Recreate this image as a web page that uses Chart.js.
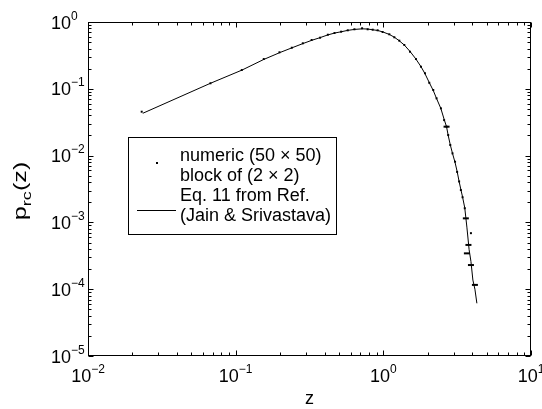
<!DOCTYPE html>
<html>
<head>
<meta charset="utf-8">
<script src="https://cdn.jsdelivr.net/npm/chart.js@4.4.0/dist/chart.umd.min.js"></script>
<style>
  body { margin: 0; background: #fff; }
  canvas { display: block; }
</style>
</head>
<body>
<canvas id="chart" width="542" height="409"></canvas>
<script>
// numeric histogram points (z, p_rc(z))
var numericZ = [0.0231, 0.0675, 0.110, 0.155, 0.198, 0.240, 0.285, 0.327, 0.373, 0.421,
                0.467, 0.518, 0.574, 0.637, 0.718, 0.783, 0.847, 0.915, 0.989, 1.098,
                1.187, 1.283, 1.387, 1.515, 1.663, 1.798, 1.914, 2.047, 2.178, 2.293,
                2.455, 2.58, 2.68, 2.75, 2.84, 2.94, 3.06, 3.16, 3.26, 3.35,
                3.44, 3.56, 3.92];
var numericP = [0.0454, 0.121, 0.191, 0.279, 0.352, 0.412, 0.48, 0.538, 0.582, 0.645,
                0.684, 0.716, 0.751, 0.778, 0.805, 0.778, 0.767, 0.751, 0.708, 0.654,
                0.590, 0.525, 0.453, 0.359, 0.279, 0.214, 0.171, 0.123, 0.096, 0.072,
                0.051, 0.034, 0.0271, 0.0203, 0.0144, 0.0108, 0.0081, 0.0057, 0.0041, 0.00305,
                0.00238, 0.00163, 0.00069];
// low-count bins, drawn as short horizontal dashes
var spreadZ = [2.68, 3.62, 3.77, 3.68, 3.92, 4.17];
var spreadP = [0.0271, 0.00115, 0.00046, 0.000344, 0.00023, 0.000116];

// Eq. 11 (Jain & Srivastava)
var eqZ = [0.0235, 0.0675, 0.11, 0.155, 0.2, 0.24, 0.285, 0.33, 0.37, 0.42,
           0.47, 0.52, 0.575, 0.64, 0.72, 0.78, 0.85, 0.92, 1.0, 1.1,
           1.19, 1.28, 1.39, 1.52, 1.66, 1.8, 1.91, 2.05, 2.18, 2.29,
           2.45, 2.58, 2.68, 2.75, 2.84, 2.94, 3.06, 3.16, 3.26, 3.35,
           3.44, 3.56, 3.68, 3.81, 3.92, 4.04, 4.17, 4.3];
var eqP = [0.043, 0.121, 0.19, 0.275, 0.35, 0.41, 0.475, 0.535, 0.58, 0.64,
           0.685, 0.715, 0.75, 0.775, 0.79, 0.785, 0.765, 0.745, 0.705, 0.65,
           0.59, 0.525, 0.45, 0.36, 0.28, 0.214, 0.17, 0.123, 0.094, 0.072,
           0.051, 0.035, 0.027, 0.02, 0.0145, 0.0108, 0.0079, 0.0058, 0.0041, 0.0031,
           0.0024, 0.00165, 0.00085, 0.00039, 0.00026, 0.000137, 0.0001, 0.0000615];

var xTickExps = [-2, -1, 0, 1];
var yTickExps = [-5, -4, -3, -2, -1, 0];
var legendLines = ['numeric (50 \u00d7 50)', 'block of (2 \u00d7 2)', 'Eq. 11 from Ref.', '(Jain & Srivastava)'];

var FONT = '"Liberation Sans", Arial, Helvetica, sans-serif';

function pairs(xs, ys) {
  return xs.map(function (x, i) { return { x: x, y: ys[i] }; });
}

function expText(e) {
  return e < 0 ? '\u2212' + (-e) : String(e);
}

// MATLAB-like box axes, inward ticks, 10^n labels, titles and legend
var matlabAxes = {
  id: 'matlabAxes',
  afterDraw: function (chart) {
    var ctx = chart.ctx, a = chart.chartArea;
    var xs = chart.scales.x, ys = chart.scales.y;
    var L = Math.round(a.left) + 0.5, R = Math.round(a.right) - 0.5;
    var T = Math.round(a.top) + 0.5, B = Math.round(a.bottom) - 0.5;
    ctx.save();
    ctx.strokeStyle = '#000';
    ctx.fillStyle = '#000';
    ctx.lineWidth = 1;

    // ticks
    ctx.beginPath();
    xTickExps.forEach(function (e) {
      for (var m = 1; m < 10; m++) {
        if (e === xTickExps[xTickExps.length - 1] && m > 1) break;
        var px = Math.round(xs.getPixelForValue(m * Math.pow(10, e))) + 0.5;
        var len = m === 1 ? 5 : 3;
        ctx.moveTo(px, B); ctx.lineTo(px, B - len);
        ctx.moveTo(px, T); ctx.lineTo(px, T + len);
      }
    });
    yTickExps.forEach(function (e) {
      for (var m = 1; m < 10; m++) {
        if (e === yTickExps[yTickExps.length - 1] && m > 1) break;
        var py = Math.round(ys.getPixelForValue(m * Math.pow(10, e))) + 0.5;
        var len = m === 1 ? 5 : 3;
        ctx.moveTo(L, py); ctx.lineTo(L + len, py);
        ctx.moveTo(R, py); ctx.lineTo(R - len, py);
      }
    });
    ctx.stroke();
    ctx.strokeRect(L, T, R - L, B - T);

    // tick labels
    ctx.textBaseline = 'alphabetic';
    ctx.textAlign = 'left';
    xTickExps.forEach(function (e) {
      var px = xs.getPixelForValue(Math.pow(10, e));
      ctx.font = '18px ' + FONT;
      var w1 = ctx.measureText('10').width;
      ctx.font = '12px ' + FONT;
      var w2 = ctx.measureText(expText(e)).width;
      var x0 = px - (w1 + w2) / 2;
      ctx.font = '18px ' + FONT;
      ctx.fillText('10', x0, a.bottom + 26);
      ctx.font = '12px ' + FONT;
      ctx.fillText(expText(e), x0 + w1, a.bottom + 17);
    });
    yTickExps.forEach(function (e) {
      var py = ys.getPixelForValue(Math.pow(10, e));
      ctx.font = '18px ' + FONT;
      var w1 = ctx.measureText('10').width;
      ctx.fillText('10', a.left - 17 - w1, py + 6.5);
      ctx.font = '12px ' + FONT;
      ctx.fillText(expText(e), a.left - 17, py - 2.5);
    });

    // axis titles
    ctx.font = '18px ' + FONT;
    ctx.textAlign = 'center';
    ctx.fillText('z', (a.left + a.right) / 2, a.bottom + 48);

    ctx.save();
    ctx.translate(26, 191);
    ctx.rotate(-Math.PI / 2);
    ctx.scale(1.4, 1);
    ctx.textAlign = 'left';
    ctx.font = '18px ' + FONT;
    var wp = ctx.measureText('p').width;
    var wz = ctx.measureText('(z)').width;
    ctx.font = '13px ' + FONT;
    var wrc = ctx.measureText('rc').width;
    var sx = -(wp + wrc + wz) / 2;
    ctx.font = '18px ' + FONT;
    ctx.fillText('p', sx, 0);
    ctx.font = '13px ' + FONT;
    ctx.fillText('rc', sx + wp, 5);
    ctx.font = '18px ' + FONT;
    ctx.fillText('(z)', sx + wp + wrc, 0);
    ctx.restore();

    // legend
    ctx.fillStyle = '#fff';
    ctx.fillRect(128.5, 137.5, 208, 97);
    ctx.strokeRect(128.5, 137.5, 208, 97);
    ctx.fillStyle = '#000';
    ctx.fillRect(156, 162, 2, 2);
    ctx.beginPath();
    ctx.moveTo(137, 210.5); ctx.lineTo(176, 210.5);
    ctx.stroke();
    ctx.font = '18px ' + FONT;
    ctx.textAlign = 'left';
    var baselines = [160.5, 180.5, 200.5, 221];
    legendLines.forEach(function (s, i) { ctx.fillText(s, 180, baselines[i]); });
    ctx.restore();
  }
};

var ctx = document.getElementById('chart').getContext('2d');
var myChart = new Chart(ctx, {
  type: 'line',
  data: {
    datasets: [
      {
        label: 'Eq. 11 from Ref. (Jain & Srivastava)',
        data: pairs(eqZ, eqP),
        borderColor: '#000',
        borderWidth: 1,
        pointRadius: 0,
        tension: 0
      },
      {
        label: 'numeric (50 x 50) block of (2 x 2)',
        data: pairs(numericZ, numericP),
        showLine: false,
        pointStyle: 'rect',
        pointRadius: 1.4,
        pointBorderWidth: 0,
        pointBackgroundColor: '#000'
      },
      {
        label: 'numeric (sparse bins)',
        data: pairs(spreadZ, spreadP),
        showLine: false,
        pointStyle: 'line',
        pointRadius: 3,
        pointBorderWidth: 2,
        pointBorderColor: '#000'
      }
    ]
  },
  options: {
    responsive: false,
    animation: false,
    layout: { padding: { left: 88, top: 22, right: 11, bottom: 53 } },
    plugins: { legend: { display: false }, tooltip: { enabled: false } },
    scales: {
      x: { type: 'logarithmic', min: 0.01, max: 10, display: false },
      y: { type: 'logarithmic', min: 1e-5, max: 1, display: false }
    }
  },
  plugins: [matlabAxes]
});
</script>
</body>
</html>
